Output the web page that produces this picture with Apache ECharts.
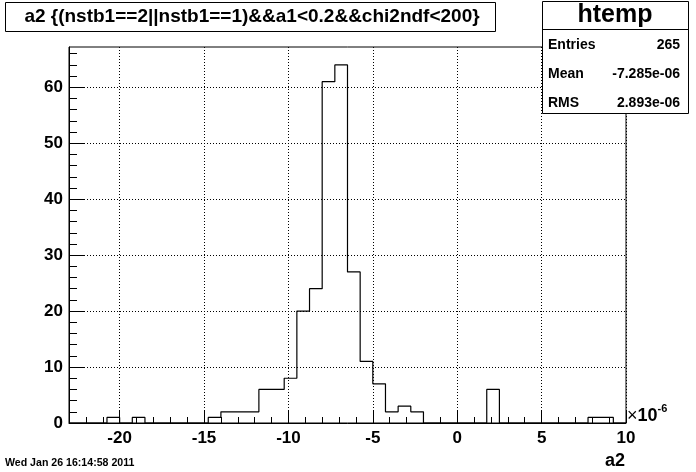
<!DOCTYPE html>
<html><head><meta charset="utf-8">
<script src="https://cdn.jsdelivr.net/npm/echarts@6/dist/echarts.min.js"></script>
<style>html,body{margin:0;padding:0;background:#fff}#c{width:696px;height:472px}</style>
</head><body><div id="c"></div>
<script>
// ---- data ----
const binMin = -23;
const binWidth = 0.75;
const counts = [0,0,0,1,0,1,0,0,0,0,0,1,2,2,2,6,6,8,20,24,61,64,27,11,7,2,3,2,0,0,0,0,0,6,0,0,0,0,0,0,0,1,1,0];
const xMin = -23, xMax = 10;
const yMin = 0, yMax = 67.2;
const xMajorTicks = [-20,-15,-10,-5,0,5,10];
const xMinorTicks = [-22,-21,-19,-18,-17,-16,-14,-13,-12,-11,-9,-8,-7,-6,-4,-3,-2,-1,1,2,3,4,6,7,8,9];
const yMajorTicks = [0,10,20,30,40,50,60];
const yMinorTicks = [2,4,6,8,12,14,16,18,22,24,26,28,32,34,36,38,42,44,46,48,52,54,56,58,62,64,66];
const titleText = 'a2 {(nstb1==2||nstb1==1)&&a1<0.2&&chi2ndf<200}';
const statsName = 'htemp';
const statsLabels = ['Entries','Mean','RMS'];
const statsValues = ['265','-7.285e-06','2.893e-06'];
const xTitle = 'a2';
const dateText = 'Wed Jan 26 16:14:58 2011';

// ---- chart ----
const FONT = '"Liberation Sans", Arial, Helvetica, sans-serif';
const pts = counts.map((c, i) => [binMin + i * binWidth, c]);
pts.push([binMin + counts.length * binWidth, 0]);

const gridL = 69, gridT = 47, gridR = 70, gridB = 49;
const dotted = { color: '#000', width: 1, type: [1, 2] };

const chart = echarts.init(document.getElementById('c'), null, { renderer: 'canvas' });
const statsX = 542, statsW = 146, statsY = 1, statsH = 112;
const graphics = [
  { type: 'rect', shape: { x: 5.5, y: 2.5, width: 490, height: 29 }, style: { fill: '#fff', stroke: '#000', lineWidth: 1 }, z: 100 },
  { type: 'text', x: 252, y: 17, style: { text: titleText, font: 'bold 19px ' + FONT, fill: '#000', textAlign: 'center', textVerticalAlign: 'middle' }, z: 101 },
  { type: 'rect', shape: { x: statsX + 0.5, y: statsY + 0.5, width: statsW, height: statsH }, style: { fill: '#fff', stroke: '#000', lineWidth: 1 }, z: 100 },
  { type: 'line', shape: { x1: statsX, y1: 29.5, x2: statsX + statsW, y2: 29.5 }, style: { stroke: '#000', lineWidth: 1 }, z: 101 },
  { type: 'text', x: statsX + statsW / 2, y: 15.5, style: { text: statsName, font: 'bold 25px ' + FONT, fill: '#000', textAlign: 'center', textVerticalAlign: 'middle' }, z: 101 },
  { type: 'text', x: 627, y: 416, style: { text: '{x|×}{n|10}{s|-6}', fill: '#000', textVerticalAlign: 'middle', rich: {
      x: { font: '18px ' + FONT, fill: '#000' },
      n: { font: 'bold 18px ' + FONT, fill: '#000' },
      s: { font: 'bold 11px ' + FONT, fill: '#000', padding: [0,0,14,0] } } }, z: 101 },
  { type: 'text', x: 625, y: 461, style: { text: xTitle, font: 'bold 18px ' + FONT, fill: '#000', textAlign: 'right', textVerticalAlign: 'middle' }, z: 101 },
  { type: 'text', x: 5, y: 463, style: { text: dateText, font: 'bold 10.6px ' + FONT, fill: '#000', textAlign: 'left', textVerticalAlign: 'middle' }, z: 101 }
];
statsLabels.forEach((lab, i) => {
  const yy = 45 + i * 29;
  graphics.push({ type: 'text', x: statsX + 6, y: yy, style: { text: lab, font: 'bold 14px ' + FONT, fill: '#000', textAlign: 'left', textVerticalAlign: 'middle' }, z: 101 });
  graphics.push({ type: 'text', x: statsX + statsW - 8, y: yy, style: { text: statsValues[i], font: 'bold 14px ' + FONT, fill: '#000', textAlign: 'right', textVerticalAlign: 'middle' }, z: 101 });
});

chart.setOption({
  animation: false,
  backgroundColor: '#fff',
  grid: { left: gridL, top: gridT, right: gridR, bottom: gridB, show: true, borderColor: '#000', borderWidth: 1, backgroundColor: 'transparent', containLabel: false },
  xAxis: [
    { type: 'value', min: xMin, max: xMax, position: 'bottom',
      axisLine: { show: true, onZero: false, lineStyle: { color: '#000', width: 1 } },
      axisTick: { show: true, inside: true, length: 12, customValues: xMajorTicks, lineStyle: { color: '#000', width: 1 } },
      axisLabel: { show: true, customValues: xMajorTicks, color: '#000', fontSize: 17, fontWeight: 'bold', fontFamily: FONT, margin: 7 },
      splitLine: { show: true, lineStyle: dotted } },
    { type: 'value', min: xMin, max: xMax, position: 'bottom',
      axisLine: { show: false, onZero: false },
      axisTick: { show: true, inside: true, length: 6, customValues: xMinorTicks, lineStyle: { color: '#000', width: 1 } },
      axisLabel: { show: false }, splitLine: { show: false } }
  ],
  yAxis: [
    { type: 'value', min: yMin, max: yMax, position: 'left',
      axisLine: { show: true, onZero: false, lineStyle: { color: '#000', width: 1 } },
      axisTick: { show: true, inside: true, length: 16, customValues: yMajorTicks, lineStyle: { color: '#000', width: 1 } },
      axisLabel: { show: true, customValues: yMajorTicks, color: '#000', fontSize: 17, fontWeight: 'bold', fontFamily: FONT, margin: 6 },
      splitLine: { show: true, lineStyle: dotted } },
    { type: 'value', min: yMin, max: yMax, position: 'left',
      axisLine: { show: false, onZero: false },
      axisTick: { show: true, inside: true, length: 8, customValues: yMinorTicks, lineStyle: { color: '#000', width: 1 } },
      axisLabel: { show: false }, splitLine: { show: false } }
  ],
  series: [{
    type: 'line', xAxisIndex: 0, yAxisIndex: 0, step: 'end', data: pts,
    showSymbol: false, symbol: 'none', lineStyle: { color: '#000', width: 1.2 }, z: 5, silent: true
  }],
  graphic: graphics
});
</script>
</body></html>
